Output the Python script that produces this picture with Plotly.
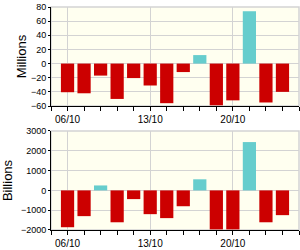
import plotly.graph_objects as go
from plotly.subplots import make_subplots

dates = ["06/10", "07/10", "08/10", "09/10", "10/10",
         "13/10", "14/10", "15/10", "16/10", "17/10",
         "20/10", "21/10", "22/10", "23/10"]
millions = [-40.5, -42, -17, -50, -20.5, -31, -56, -12, 12, -59, -52, 74, -55, -40]
billions = [-1860, -1300, 250, -1610, -440, -1200, -1400, -800, 560, -1970, -1970, 2440, -1610, -1250]
label_dates = ["06/10", "13/10", "20/10"]

RED = "#CC0000"
TEAL = "#66CDCD"

x = list(range(len(dates)))
tickvals = [dates.index(d) for d in label_dates]

def colors(vals):
    return [TEAL if v > 0 else RED for v in vals]

fig = make_subplots(rows=2, cols=1, vertical_spacing=0.112)
fig.add_trace(go.Bar(x=x, y=millions, marker=dict(color=colors(millions), line=dict(width=0)),
                     width=0.8), row=1, col=1)
fig.add_trace(go.Bar(x=x, y=billions, marker=dict(color=colors(billions), line=dict(width=0)),
                     width=0.8), row=2, col=1)

xax = dict(range=[-1, len(dates)], tickmode="array", tickvals=tickvals, ticktext=label_dates,
           ticks="outside", ticklen=4, tickcolor="black", showline=True, linecolor="black",
           linewidth=1, showgrid=True, gridcolor="#D3D3D3", zeroline=False,
           tickfont=dict(size=10, color="black", family="Liberation Sans"),
           minor=dict(ticks="outside", ticklen=4, tickcolor="black", dtick=1, tick0=0, showgrid=False))
fig.update_xaxes(**xax)

fig.update_yaxes(range=[-60, 80], dtick=20, row=1, col=1,
                 title=dict(text="Millions", font=dict(size=13, color="black", family="Liberation Sans"), standoff=1))
fig.update_yaxes(range=[-2000, 3000], dtick=1000, row=2, col=1,
                 title=dict(text="Billions", font=dict(size=13, color="black", family="Liberation Sans"), standoff=8))
fig.update_yaxes(ticks="outside", ticklen=2, tickcolor="black", showline=True, linecolor="black",
                 linewidth=1, showgrid=True, gridcolor="#D3D3D3", zeroline=False,
                 tickfont=dict(size=9, color="black", family="Liberation Sans"))

for xr, yr in [("x", "y"), ("x2", "y2")]:
    fig.add_shape(type="rect", xref=f"{xr} domain", yref=f"{yr} domain", x0=0, x1=1, y0=0, y1=1,
                  line=dict(color="#D3D3D3", width=1.5), layer="below")

fig.update_layout(width=300, height=250, margin=dict(l=51, r=1, t=7, b=20),
                  plot_bgcolor="#FFFFF0", paper_bgcolor="white", showlegend=False,
                  bargap=0.2)
fig.write_html("out.html")
